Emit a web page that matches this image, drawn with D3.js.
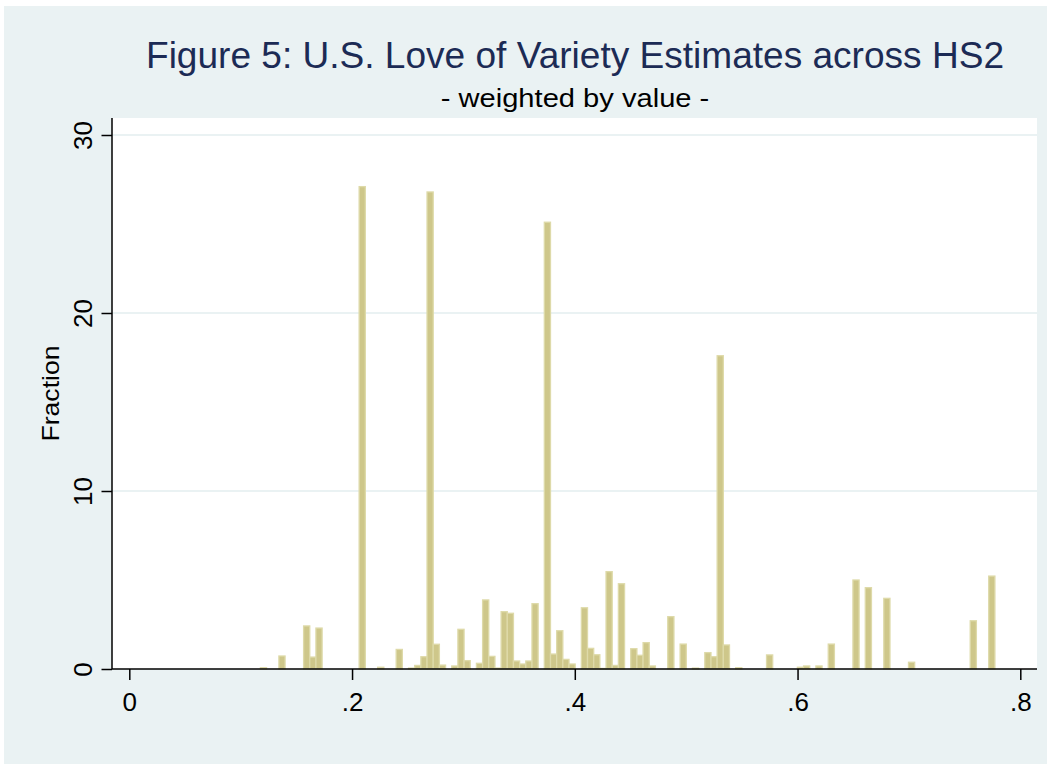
<!DOCTYPE html>
<html>
<head>
<meta charset="utf-8">
<script src="https://cdn.jsdelivr.net/npm/d3@7"></script>
<style>
  body { margin: 0; background: #ffffff; }
  text { font-family: "Liberation Sans", Arial, Helvetica, sans-serif; }
</style>
</head>
<body>
<div id="chart"></div>
<script>
// histogram bins: left edge of the first bin and the bin width (data units)
const binStart = 0.1177;
const binWidth = 0.005542;

// bar height of every bin, bin 0 .. bin 118
const fractions = [
  0.07, 0, 0, 0.73, 0, 0, 0, 2.42, 0.67, 2.30,
  0, 0, 0, 0, 0, 0, 27.1, 0, 0, 0.10,
  0, 0, 1.10, 0, 0.05, 0.20, 0.69, 26.8, 1.39, 0.22,
  0, 0.17, 2.23, 0.47, 0, 0.32, 3.88, 0.71, 0.05, 3.22,
  3.13, 0.45, 0.28, 0.45, 3.67, 0, 25.1, 0.84, 2.15, 0.54,
  0.28, 0, 3.44, 1.16, 0.80, 0.03, 5.47, 0.20, 4.79, 0,
  1.14, 0.77, 1.48, 0.17, 0, 0, 2.94, 0, 1.40, 0,
  0.05, 0, 0.92, 0.69, 17.6, 1.35, 0, 0.07, 0, 0,
  0, 0, 0.79, 0, 0, 0, 0, 0.10, 0.17, 0,
  0.17, 0, 1.40, 0, 0, 0, 5.00, 0, 4.57, 0,
  0, 3.97, 0, 0, 0, 0.38, 0, 0, 0, 0,
  0, 0, 0, 0, 0, 2.71, 0, 0, 5.22
];

const xTicks = [0, 0.2, 0.4, 0.6, 0.8];
const xTickLabels = ["0", ".2", ".4", ".6", ".8"];
const yTicks = [0, 10, 20, 30];
const yGrid = [10, 20, 30];

const titleText = "Figure 5: U.S. Love of Variety Estimates across HS2";
const subtitleText = "- weighted by value -";
const yTitle = "Fraction";

function buildHistogram()
{
  const width = 1052;
  const height = 770;
  const plot = {left: 112, right: 1037, top: 118, bottom: 669};

  const svg = d3.select("#chart")
    .append("svg")
      .attr("width", width)
      .attr("height", height);

  // outer graph region
  svg.append("rect")
    .attr("x", 0).attr("y", 0)
    .attr("width", width).attr("height", height)
    .attr("fill", "#ffffff");
  svg.append("rect")
    .attr("x", 4).attr("y", 6)
    .attr("width", 1043).attr("height", 758)
    .attr("fill", "#eaf2f3");

  // plot region
  svg.append("rect")
    .attr("x", plot.left).attr("y", plot.top)
    .attr("width", plot.right - plot.left)
    .attr("height", plot.bottom - plot.top)
    .attr("fill", "#ffffff");

  const x = d3.scaleLinear()
    .domain([0, 0.8])
    .range([129.3, 1020.3]);

  const y = d3.scaleLinear()
    .domain([0, 30])
    .range([plot.bottom, 135]);

  // grid lines
  svg.append("g")
    .selectAll("line")
    .data(yGrid)
    .join("line")
      .attr("x1", plot.left)
      .attr("x2", plot.right)
      .attr("y1", d => y(d))
      .attr("y2", d => y(d))
      .attr("stroke", "#eaf2f3")
      .attr("stroke-width", 2);

  // bars
  const bins = fractions
    .map((v, i) => ({x0: binStart + i * binWidth, x1: binStart + (i + 1) * binWidth, value: v}))
    .filter(d => d.value > 0);

  svg.append("g")
    .selectAll("rect")
    .data(bins)
    .join("rect")
      .attr("x", d => x(d.x0))
      .attr("y", d => y(d.value))
      .attr("width", d => x(d.x1) - x(d.x0))
      .attr("height", d => y(0) - y(d.value))
      .attr("fill", "#cec78a")
      .attr("stroke", "#dedaa9")
      .attr("stroke-width", 1.3);

  // x axis
  const xAxis = d3.axisBottom(x)
    .tickValues(xTicks)
    .tickFormat((d, i) => xTickLabels[i])
    .tickSize(11)
    .tickPadding(6);

  const gx = svg.append("g")
    .attr("transform", `translate(0,${plot.bottom})`)
    .call(xAxis);
  gx.select(".domain").remove();
  gx.selectAll(".tick line").attr("stroke", "#000").attr("stroke-width", 1.5);
  gx.selectAll(".tick text")
    .attr("fill", "#000")
    .attr("font-size", 26)
    .attr("font-family", "'Liberation Sans', Arial, sans-serif")
    .attr("dy", null)
    .attr("y", 42);

  // y axis
  const yAxis = d3.axisLeft(y)
    .tickValues(yTicks)
    .tickFormat(d3.format("d"))
    .tickSize(10.5);

  const gy = svg.append("g")
    .attr("transform", `translate(${plot.left},0)`)
    .call(yAxis);
  gy.select(".domain").remove();
  gy.selectAll(".tick line").attr("stroke", "#000").attr("stroke-width", 1.5);
  gy.selectAll(".tick text")
    .attr("fill", "#000")
    .attr("font-size", 26)
    .attr("font-family", "'Liberation Sans', Arial, sans-serif")
    .attr("text-anchor", "middle")
    .attr("x", null)
    .attr("dy", null)
    .attr("transform", "translate(-20,0) rotate(-90)");

  // axis lines
  svg.append("line")
    .attr("x1", plot.left).attr("x2", plot.right)
    .attr("y1", plot.bottom).attr("y2", plot.bottom)
    .attr("stroke", "#000").attr("stroke-width", 1.5);
  svg.append("line")
    .attr("x1", plot.left).attr("x2", plot.left)
    .attr("y1", plot.top).attr("y2", plot.bottom)
    .attr("stroke", "#000").attr("stroke-width", 1.5);

  // titles
  svg.append("text")
    .attr("x", 146)
    .attr("y", 68)
    .attr("font-size", 36)
    .attr("fill", "#1c2b55")
    .attr("textLength", 858)
    .attr("lengthAdjust", "spacingAndGlyphs")
    .text(titleText);

  // subtitle: glyphs a bit wider than the installed font, so stretch horizontally
  svg.append("text")
    .attr("transform", `translate(575,107) scale(1.12,1)`)
    .attr("text-anchor", "middle")
    .attr("font-size", 26)
    .attr("fill", "#000")
    .text(subtitleText);

  svg.append("text")
    .attr("transform", `translate(59,${(plot.top + plot.bottom) / 2}) rotate(-90)`)
    .attr("text-anchor", "middle")
    .attr("font-size", 24)
    .attr("fill", "#000")
    .attr("textLength", 96)
    .attr("lengthAdjust", "spacingAndGlyphs")
    .text(yTitle);
}

buildHistogram();
</script>
</body>
</html>
